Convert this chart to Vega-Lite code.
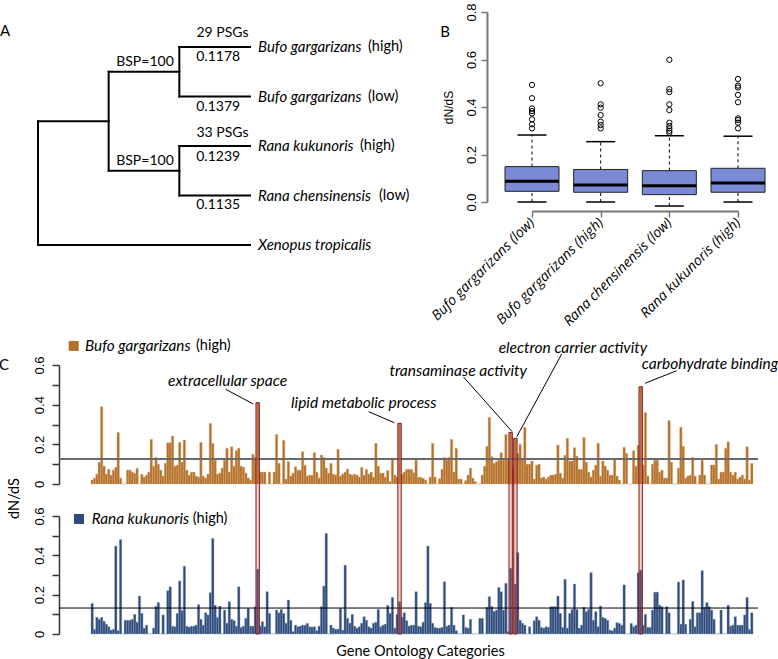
{
"$schema":"https://vega.github.io/schema/vega-lite/v6.json",
"width":778,"height":659,"autosize":"none","padding":0,"background":"white",
"config":{"view":{"stroke":null},"font":"Lato","axis":{"grid":false}},
"datasets":{
"tree":[{"x":0,"x2":3,"y":5,"y2":5},{"x":0,"x2":0,"y":2.5,"y2":5},{"x":0,"x2":1,"y":2.5,"y2":2.5},{"x":1,"x2":1,"y":1.5,"y2":3.5},{"x":1,"x2":2,"y":1.5,"y2":1.5},{"x":1,"x2":2,"y":3.5,"y2":3.5},{"x":2,"x2":2,"y":1,"y2":2},{"x":2,"x2":2,"y":3,"y2":4},{"x":2,"x2":3,"y":1,"y2":1},{"x":2,"x2":3,"y":2,"y2":2},{"x":2,"x2":3,"y":3,"y2":3},{"x":2,"x2":3,"y":4,"y2":4}],
"treeText":[{"t":"29 PSGs","x":2.61,"y":0.717},{"t":"0.1178","x":2.55,"y":1.212},{"t":"0.1379","x":2.55,"y":2.222},{"t":"33 PSGs","x":2.61,"y":2.737},{"t":"0.1239","x":2.55,"y":3.232},{"t":"0.1135","x":2.55,"y":4.202},{"t":"BSP=100","x":1.514,"y":1.303},{"t":"BSP=100","x":1.514,"y":3.303}],
"tips":[{"sp":"Bufo gargarizans","suf":"(high)","y":1},{"sp":"Bufo gargarizans","suf":"(low)","y":2},{"sp":"Rana kukunoris","suf":"(high)","y":3},{"sp":"Rana chensinensis","suf":"(low)","y":4},{"sp":"Xenopus tropicalis","suf":"","y":5}],
"letters":[{"t":"A","x":-0.467,"y":0.677},{"t":"B","x":5.759,"y":0.697},{"t":"C","x":-0.48,"y":7.424}],
"box":[{"g":"Bufo gargarizans (low)","lo":0,"q1":0.045,"med":0.087,"q3":0.149,"hi":0.282},{"g":"Bufo gargarizans (high)","lo":0,"q1":0.041,"med":0.072,"q3":0.137,"hi":0.254},{"g":"Rana chensinensis (low)","lo":-0.017,"q1":0.031,"med":0.068,"q3":0.132,"hi":0.279},{"g":"Rana kukunoris (high)","lo":0,"q1":0.041,"med":0.08,"q3":0.142,"hi":0.277}],
"outl":[{"g":"Bufo gargarizans (low)","v":0.493},{"g":"Bufo gargarizans (low)","v":0.437},{"g":"Bufo gargarizans (low)","v":0.394},{"g":"Bufo gargarizans (low)","v":0.383},{"g":"Bufo gargarizans (low)","v":0.373},{"g":"Bufo gargarizans (low)","v":0.348},{"g":"Bufo gargarizans (low)","v":0.327},{"g":"Bufo gargarizans (low)","v":0.31},
{"g":"Bufo gargarizans (high)","v":0.5},{"g":"Bufo gargarizans (high)","v":0.411},{"g":"Bufo gargarizans (high)","v":0.397},{"g":"Bufo gargarizans (high)","v":0.366},{"g":"Bufo gargarizans (high)","v":0.338},{"g":"Bufo gargarizans (high)","v":0.324},{"g":"Bufo gargarizans (high)","v":0.31},
{"g":"Rana chensinensis (low)","v":0.599},{"g":"Rana chensinensis (low)","v":0.475},{"g":"Rana chensinensis (low)","v":0.463},{"g":"Rana chensinensis (low)","v":0.411},{"g":"Rana chensinensis (low)","v":0.387},{"g":"Rana chensinensis (low)","v":0.334},{"g":"Rana chensinensis (low)","v":0.32},{"g":"Rana chensinensis (low)","v":0.31},{"g":"Rana chensinensis (low)","v":0.3},{"g":"Rana chensinensis (low)","v":0.292},
{"g":"Rana kukunoris (high)","v":0.518},{"g":"Rana kukunoris (high)","v":0.49},{"g":"Rana kukunoris (high)","v":0.482},{"g":"Rana kukunoris (high)","v":0.451},{"g":"Rana kukunoris (high)","v":0.42},{"g":"Rana kukunoris (high)","v":0.352},{"g":"Rana kukunoris (high)","v":0.345},{"g":"Rana kukunoris (high)","v":0.334},{"g":"Rana kukunoris (high)","v":0.31}],
"terms":[{"i":71,"term":"extracellular space","b":0.41,"tx":59.46,"ty":0.519,"lx":58.7,"ly":0.4775,"lx2":70.2,"ly2":0.4034},{"i":131,"term":"lipid metabolic process","b":0.306,"tx":116.25,"ty":0.408,"lx":118.3,"ly":0.3645,"lx2":128.96,"ly2":0.309},{"i":178,"term":"transaminase activity","b":0.26,"tx":155.6,"ty":0.572,"lx":157.8,"ly":0.5395,"lx2":178,"ly2":0.2647},{"i":180,"term":"electron carrier activity","b":0.23,"tx":203.4,"ty":0.684,"lx":198.7,"ly":0.6555,"lx2":180,"ly2":0.2385},{"i":233,"term":"carbohydrate binding","b":0.49,"tx":260.5,"ty":0.606,"lx":246.6,"ly":0.5713,"lx2":233.4,"ly2":0.5077}],
"go":[
{"i":1,"b":0.02,"r":0.156},{"i":2,"b":0.03,"r":0.024},{"i":3,"b":0.05,"r":0.085},{"i":4,"b":0.11,"r":0.075},{"i":5,"b":0.39,"r":0.085},{"i":6,"b":0.09,"r":0.065},{"i":7,"b":0.05,"r":0.05},{"i":8,"b":0.074,"r":0.037},{"i":9,"b":0.045,"r":0.02},{"i":10,"b":0.07,"r":0.024},
{"i":11,"b":0.084,"r":0.447},{"i":12,"b":0.26,"r":0.017},{"i":13,"b":0.03,"r":0.48},{"i":14,"b":0,"r":0},{"i":15,"b":0,"r":0.07},{"i":16,"b":0.07,"r":0.07},{"i":17,"b":0.07,"r":0.07},{"i":18,"b":0.06,"r":0.075},{"i":19,"b":0.054,"r":0.1},{"i":20,"b":0.079,"r":0.06},
{"i":21,"b":0,"r":0.193},{"i":22,"b":0.049,"r":0.105},{"i":23,"b":0.035,"r":0.03},{"i":24,"b":0.045,"r":0.045},{"i":25,"b":0.06,"r":0},{"i":26,"b":0.225,"r":0},{"i":27,"b":0.09,"r":0.03},{"i":28,"b":0.134,"r":0.14},{"i":29,"b":0.1,"r":0.16},{"i":30,"b":0.07,"r":0},
{"i":31,"b":0.04,"r":0.097},{"i":32,"b":0.104,"r":0},{"i":33,"b":0.208,"r":0.22},{"i":34,"b":0.208,"r":0.24},{"i":35,"b":0.242,"r":0.04},{"i":36,"b":0.09,"r":0.037},{"i":37,"b":0.095,"r":0.105},{"i":38,"b":0.21,"r":0.27},{"i":39,"b":0.11,"r":0.12},{"i":40,"b":0.222,"r":0.345},
{"i":41,"b":0.07,"r":0.04},{"i":42,"b":0.045,"r":0.035},{"i":43,"b":0.06,"r":0.04},{"i":44,"b":0.06,"r":0.04},{"i":45,"b":0.04,"r":0.045},{"i":46,"b":0.035,"r":0.15},{"i":47,"b":0.21,"r":0.075},{"i":48,"b":0.04,"r":0.045},{"i":49,"b":0.03,"r":0.108},{"i":50,"b":0.05,"r":0.097},
{"i":51,"b":0.306,"r":0.21},{"i":52,"b":0.205,"r":0.486},{"i":53,"b":0.12,"r":0.146},{"i":54,"b":0.05,"r":0.085},{"i":55,"b":0.055,"r":0.142},{"i":56,"b":0.08,"r":0},{"i":57,"b":0.12,"r":0.122},{"i":58,"b":0.18,"r":0.055},{"i":59,"b":0.06,"r":0.164},{"i":60,"b":0.188,"r":0.075},
{"i":61,"b":0.09,"r":0.068},{"i":62,"b":0.168,"r":0.04},{"i":63,"b":0.18,"r":0.24},{"i":64,"b":0.09,"r":0.034},{"i":65,"b":0.085,"r":0.04},{"i":66,"b":0.055,"r":0.08},{"i":67,"b":0.03,"r":0.13},{"i":68,"b":0.02,"r":0.04},{"i":69,"b":0.15,"r":0.04},{"i":70,"b":0.134,"r":0.139},
{"i":71,"b":0.41,"r":0.33},{"i":72,"b":0.06,"r":0.04},{"i":73,"b":0.06,"r":0.063},{"i":74,"b":0.06,"r":0.037},{"i":75,"b":0,"r":0.215},{"i":76,"b":0.06,"r":0.105},{"i":77,"b":0,"r":0},{"i":78,"b":0.06,"r":0},{"i":79,"b":0.25,"r":0.122},{"i":80,"b":0.105,"r":0.108},
{"i":81,"b":0,"r":0.125},{"i":82,"b":0.22,"r":0.105},{"i":83,"b":0.025,"r":0.055},{"i":84,"b":0.113,"r":0.173},{"i":85,"b":0.04,"r":0.07},{"i":86,"b":0.055,"r":0.012},{"i":87,"b":0.087,"r":0.045},{"i":88,"b":0.07,"r":0.037},{"i":89,"b":0.07,"r":0.04},{"i":90,"b":0.163,"r":0.045},
{"i":91,"b":0.095,"r":0.045},{"i":92,"b":0.04,"r":0.054},{"i":93,"b":0.045,"r":0.037},{"i":94,"b":0.045,"r":0.035},{"i":95,"b":0.158,"r":0.037},{"i":96,"b":0.06,"r":0.017},{"i":97,"b":0.03,"r":0.04},{"i":98,"b":0.146,"r":0.139},{"i":99,"b":0.134,"r":0.244},{"i":100,"b":0.08,"r":0.512},
{"i":101,"b":0.055,"r":0},{"i":102,"b":0.104,"r":0.045},{"i":103,"b":0.05,"r":0.03},{"i":104,"b":0.045,"r":0.025},{"i":105,"b":0.175,"r":0.025},{"i":106,"b":0.04,"r":0.13},{"i":107,"b":0.05,"r":0.02},{"i":108,"b":0.06,"r":0.35},{"i":109,"b":0.075,"r":0.08},{"i":110,"b":0.05,"r":0.055},
{"i":111,"b":0.045,"r":0.1},{"i":112,"b":0.05,"r":0.04},{"i":113,"b":0.045,"r":0.03},{"i":114,"b":0.035,"r":0.037},{"i":115,"b":0.084,"r":0.055},{"i":116,"b":0.045,"r":0.088},{"i":117,"b":0.074,"r":0.07},{"i":118,"b":0.05,"r":0.037},{"i":119,"b":0.06,"r":0.03},{"i":120,"b":0.035,"r":0.055},
{"i":121,"b":0.205,"r":0.06},{"i":122,"b":0.09,"r":0.125},{"i":123,"b":0.055,"r":0.037},{"i":124,"b":0.055,"r":0.045},{"i":125,"b":0.035,"r":0.05},{"i":126,"b":0.068,"r":0.146},{"i":127,"b":0.012,"r":0.105},{"i":128,"b":0.13,"r":0.186},{"i":129,"b":0.045,"r":0.03},{"i":130,"b":0.035,"r":0.1},
{"i":131,"b":0.306,"r":0.164},{"i":132,"b":0.05,"r":0.085},{"i":133,"b":0.06,"r":0.108},{"i":134,"b":0.074,"r":0.068},{"i":135,"b":0.074,"r":0.04},{"i":136,"b":0.074,"r":0.045},{"i":137,"b":0.057,"r":0.045},{"i":138,"b":0.12,"r":0.215},{"i":139,"b":0.034,"r":0.04},{"i":140,"b":0.034,"r":0.037},
{"i":141,"b":0.028,"r":0.06},{"i":142,"b":0.02,"r":0.16},{"i":143,"b":0,"r":0.447},{"i":144,"b":0.035,"r":0.156},{"i":145,"b":0.205,"r":0.055},{"i":146,"b":0.035,"r":0.034},{"i":147,"b":0,"r":0.03},{"i":148,"b":0.027,"r":0.03},{"i":149,"b":0.074,"r":0.034},{"i":150,"b":0.134,"r":0.266},
{"i":151,"b":0.12,"r":0.04},{"i":152,"b":0.134,"r":0.045},{"i":153,"b":0.225,"r":0.136},{"i":154,"b":0.06,"r":0.045},{"i":155,"b":0.18,"r":0.017},{"i":156,"b":0.025,"r":0},{"i":157,"b":0.025,"r":0},{"i":158,"b":0,"r":0.097},{"i":159,"b":0.017,"r":0.034},{"i":160,"b":0.045,"r":0.03},
{"i":161,"b":0.08,"r":0.075},{"i":162,"b":0.03,"r":0},{"i":163,"b":0.012,"r":0},{"i":164,"b":0,"r":0},{"i":165,"b":0,"r":0.08},{"i":166,"b":0.045,"r":0.08},{"i":167,"b":0.09,"r":0},{"i":168,"b":0.19,"r":0.136},{"i":169,"b":0.336,"r":0.19},{"i":170,"b":0.138,"r":0.14},
{"i":171,"b":0.104,"r":0.115},{"i":172,"b":0.113,"r":0.122},{"i":173,"b":0.12,"r":0.237},{"i":174,"b":0.158,"r":0.215},{"i":175,"b":0.12,"r":0.122},{"i":176,"b":0.25,"r":0.258},{"i":177,"b":0.12,"r":0.012},{"i":178,"b":0.26,"r":0.334},{"i":179,"b":0.085,"r":0.005},{"i":180,"b":0.23,"r":0.254},
{"i":181,"b":0.155,"r":0.414},{"i":182,"b":0.2,"r":0.07},{"i":183,"b":0.13,"r":0.055},{"i":184,"b":0.286,"r":0.045},{"i":185,"b":0.1,"r":0},{"i":186,"b":0.1,"r":0.037},{"i":187,"b":0.116,"r":0},{"i":188,"b":0.025,"r":0.068},{"i":189,"b":0.095,"r":0.088},{"i":190,"b":0.1,"r":0.07},
{"i":191,"b":0.03,"r":0.034},{"i":192,"b":0.035,"r":0.03},{"i":193,"b":0.025,"r":0.037},{"i":194,"b":0.035,"r":0.034},{"i":195,"b":0.045,"r":0.139},{"i":196,"b":0.045,"r":0.139},{"i":197,"b":0.05,"r":0.139},{"i":198,"b":0.197,"r":0.193},{"i":199,"b":0.055,"r":0.105},{"i":200,"b":0.03,"r":0.034},
{"i":201,"b":0.145,"r":0.278},{"i":202,"b":0.23,"r":0.03},{"i":203,"b":0.116,"r":0.105},{"i":204,"b":0.116,"r":0.125},{"i":205,"b":0.183,"r":0.254},{"i":206,"b":0.14,"r":0.125},{"i":207,"b":0.074,"r":0.03},{"i":208,"b":0.074,"r":0.045},{"i":209,"b":0.235,"r":0.136},{"i":210,"b":0.11,"r":0.114},
{"i":211,"b":0.06,"r":0.125},{"i":212,"b":0.035,"r":0.312},{"i":213,"b":0.07,"r":0.07},{"i":214,"b":0.095,"r":0.114},{"i":215,"b":0.205,"r":0.037},{"i":216,"b":0.04,"r":0.142},{"i":217,"b":0.116,"r":0.085},{"i":218,"b":0.09,"r":0.08},{"i":219,"b":0.07,"r":0.07},{"i":220,"b":0.045,"r":0.02},
{"i":221,"b":0.045,"r":0.017},{"i":222,"b":0.13,"r":0.03},{"i":223,"b":0.04,"r":0.058},{"i":224,"b":0.02,"r":0.054},{"i":225,"b":0,"r":0.045},{"i":226,"b":0.185,"r":0.25},{"i":227,"b":0.155,"r":0},{"i":228,"b":0,"r":0},{"i":229,"b":0,"r":0.054},{"i":230,"b":0.168,"r":0.037},
{"i":231,"b":0.09,"r":0.045},{"i":232,"b":0.195,"r":0.312},{"i":233,"b":0.49,"r":0.325},{"i":234,"b":0.096,"r":0.045},{"i":235,"b":0.36,"r":0.1},{"i":236,"b":0.04,"r":0.034},{"i":237,"b":0,"r":0.034},{"i":238,"b":0.1,"r":0.122},{"i":239,"b":0.12,"r":0.213},{"i":240,"b":0.12,"r":0.213},
{"i":241,"b":0.06,"r":0.147},{"i":242,"b":0.07,"r":0.139},{"i":243,"b":0.03,"r":0},{"i":244,"b":0.03,"r":0.139},{"i":245,"b":0.32,"r":0.108},{"i":246,"b":0.11,"r":0},{"i":247,"b":0,"r":0},{"i":248,"b":0,"r":0},{"i":249,"b":0.08,"r":0.264},{"i":250,"b":0.286,"r":0.05},
{"i":251,"b":0.19,"r":0.275},{"i":252,"b":0.03,"r":0.05},{"i":253,"b":0.04,"r":0},{"i":254,"b":0.045,"r":0.075},{"i":255,"b":0.134,"r":0.166},{"i":256,"b":0.04,"r":0.037},{"i":257,"b":0,"r":0.108},{"i":258,"b":0.045,"r":0.108},{"i":259,"b":0.12,"r":0.322},{"i":260,"b":0.045,"r":0.136},
{"i":261,"b":0,"r":0.16},{"i":262,"b":0,"r":0.139},{"i":263,"b":0.096,"r":0.122},{"i":264,"b":0.096,"r":0.075},{"i":265,"b":0.2,"r":0},{"i":266,"b":0.025,"r":0},{"i":267,"b":0.06,"r":0.122},{"i":268,"b":0.06,"r":0},{"i":269,"b":0.18,"r":0},{"i":270,"b":0.213,"r":0.146},
{"i":271,"b":0.06,"r":0.04},{"i":272,"b":0.045,"r":0.045},{"i":273,"b":0.06,"r":0.088},{"i":274,"b":0.025,"r":0.045},{"i":275,"b":0.035,"r":0.045},{"i":276,"b":0.045,"r":0.045},{"i":277,"b":0.025,"r":0.097},{"i":278,"b":0.188,"r":0.186},{"i":279,"b":0.02,"r":0.024},{"i":280,"b":0.104,"r":0.108}
]
},
"layer":[
 {"data":{"name":"tree"},"mark":{"type":"rule","color":"black","strokeWidth":2,"strokeCap":"square"},
  "encoding":{"x":{"field":"x","type":"quantitative","scale":{"domain":[0,3],"range":[38,250],"zero":false,"nice":false},"axis":null},"x2":{"field":"x2"},
   "y":{"field":"y","type":"quantitative","scale":{"domain":[1,5],"range":[47,245],"zero":false,"nice":false},"axis":null},"y2":{"field":"y2"}}},
 {"data":{"name":"treeText"},"mark":{"type":"text","fontSize":14,"align":"center","baseline":"middle","color":"black"},
  "encoding":{"x":{"field":"x","type":"quantitative","scale":{"domain":[0,3],"range":[38,250],"zero":false,"nice":false},"axis":null},
   "y":{"field":"y","type":"quantitative","scale":{"domain":[1,5],"range":[47,245],"zero":false,"nice":false},"axis":null},"text":{"field":"t"}}},
 {"data":{"name":"tips"},"mark":{"type":"text","fontSize":15,"fontStyle":"italic","align":"left","baseline":"middle","dx":8,"color":"black"},
  "encoding":{"x":{"datum":3,"type":"quantitative","scale":{"domain":[0,3],"range":[38,250],"zero":false,"nice":false},"axis":null},
   "y":{"field":"y","type":"quantitative","scale":{"domain":[1,5],"range":[47,245],"zero":false,"nice":false},"axis":null},"text":{"field":"sp"}}},
 {"data":{"name":"tips"},"transform":[{"filter":"datum.sp == 'Bufo gargarizans'"}],"mark":{"type":"text","fontSize":14.5,"align":"left","baseline":"middle","dx":118,"color":"black"},
  "encoding":{"x":{"datum":3,"type":"quantitative","scale":{"domain":[0,3],"range":[38,250],"zero":false,"nice":false},"axis":null},
   "y":{"field":"y","type":"quantitative","scale":{"domain":[1,5],"range":[47,245],"zero":false,"nice":false},"axis":null},"text":{"field":"suf"}}},
 {"data":{"name":"tips"},"transform":[{"filter":"datum.sp == 'Rana kukunoris'"}],"mark":{"type":"text","fontSize":14.5,"align":"left","baseline":"middle","dx":110,"color":"black"},
  "encoding":{"x":{"datum":3,"type":"quantitative","scale":{"domain":[0,3],"range":[38,250],"zero":false,"nice":false},"axis":null},
   "y":{"field":"y","type":"quantitative","scale":{"domain":[1,5],"range":[47,245],"zero":false,"nice":false},"axis":null},"text":{"field":"suf"}}},
 {"data":{"name":"tips"},"transform":[{"filter":"datum.sp == 'Rana chensinensis'"}],"mark":{"type":"text","fontSize":14.5,"align":"left","baseline":"middle","dx":129,"color":"black"},
  "encoding":{"x":{"datum":3,"type":"quantitative","scale":{"domain":[0,3],"range":[38,250],"zero":false,"nice":false},"axis":null},
   "y":{"field":"y","type":"quantitative","scale":{"domain":[1,5],"range":[47,245],"zero":false,"nice":false},"axis":null},"text":{"field":"suf"}}},
 {"data":{"name":"letters"},"mark":{"type":"text","fontSize":15,"align":"center","baseline":"middle","color":"black"},
  "encoding":{"x":{"field":"x","type":"quantitative","scale":{"domain":[0,3],"range":[38,250],"zero":false,"nice":false},"axis":null},
   "y":{"field":"y","type":"quantitative","scale":{"domain":[1,5],"range":[47,245],"zero":false,"nice":false},"axis":null},"text":{"field":"t"}}},

 {"data":{"name":"box"},"mark":{"type":"rule","strokeDash":[3,3],"color":"black","strokeWidth":1},
  "encoding":{"x":{"field":"g","type":"nominal","scale":{"type":"point","domain":["Bufo gargarizans (low)","Bufo gargarizans (high)","Rana chensinensis (low)","Rana kukunoris (high)"],"range":[532,738],"padding":0},
     "axis":{"orient":"bottom","offset":-448,"title":null,"domainColor":"#777","domainWidth":2,"tickColor":"#777","tickWidth":1.5,"tickSize":6,"labelAngle":-45,"labelAlign":"right","labelBaseline":"middle","labelFont":"Open Sans","labelFontStyle":"italic","labelFontSize":14,"labelColor":"black","labelPadding":3,"labelOverlap":false,"labelBound":false,"labelLimit":300}},
   "y":{"field":"q3","type":"quantitative","scale":{"domain":[0,0.8],"range":[202,12],"zero":false,"nice":false},
     "axis":{"orient":"left","offset":-487,"values":[0,0.2,0.4,0.6,0.8],"format":".1f","title":"dN/dS","titleFont":"Liberation Sans","titleFontSize":12,"titleFontWeight":"normal","titleColor":"black","titleX":-39,"titleY":107,"titleAngle":270,"titleAlign":"center","titleBaseline":"middle","domainColor":"#777","domainWidth":2,"tickColor":"#777","tickWidth":1.5,"tickSize":6,"labelAngle":-90,"labelAlign":"center","labelBaseline":"bottom","labelFont":"Liberation Sans","labelFontSize":13,"labelColor":"black","labelPadding":3,"labelOverlap":false,"labelBound":false}},
   "y2":{"field":"hi"}}},
 {"data":{"name":"box"},"mark":{"type":"rule","strokeDash":[3,3],"color":"black","strokeWidth":1},
  "encoding":{"x":{"field":"g","type":"nominal","scale":{"type":"point","domain":["Bufo gargarizans (low)","Bufo gargarizans (high)","Rana chensinensis (low)","Rana kukunoris (high)"],"range":[532,738],"padding":0},"axis":null},
   "y":{"field":"lo","type":"quantitative","scale":{"domain":[0,0.8],"range":[202,12],"zero":false,"nice":false},"axis":null},"y2":{"field":"q1"}}},
 {"data":{"name":"box"},"mark":{"type":"tick","orient":"horizontal","size":29,"thickness":1.5,"color":"black","opacity":1},
  "encoding":{"x":{"field":"g","type":"nominal","scale":{"type":"point","domain":["Bufo gargarizans (low)","Bufo gargarizans (high)","Rana chensinensis (low)","Rana kukunoris (high)"],"range":[532,738],"padding":0},"axis":null},
   "y":{"field":"hi","type":"quantitative","scale":{"domain":[0,0.8],"range":[202,12],"zero":false,"nice":false},"axis":null}}},
 {"data":{"name":"box"},"mark":{"type":"tick","orient":"horizontal","size":29,"thickness":1.5,"color":"black","opacity":1},
  "encoding":{"x":{"field":"g","type":"nominal","scale":{"type":"point","domain":["Bufo gargarizans (low)","Bufo gargarizans (high)","Rana chensinensis (low)","Rana kukunoris (high)"],"range":[532,738],"padding":0},"axis":null},
   "y":{"field":"lo","type":"quantitative","scale":{"domain":[0,0.8],"range":[202,12],"zero":false,"nice":false},"axis":null}}},
 {"data":{"name":"box"},"mark":{"type":"bar","width":54,"fill":"#7b8ad4","stroke":"#222","strokeWidth":1,"opacity":1},
  "encoding":{"x":{"field":"g","type":"nominal","scale":{"type":"point","domain":["Bufo gargarizans (low)","Bufo gargarizans (high)","Rana chensinensis (low)","Rana kukunoris (high)"],"range":[532,738],"padding":0},"axis":null},
   "y":{"field":"q1","type":"quantitative","scale":{"domain":[0,0.8],"range":[202,12],"zero":false,"nice":false},"axis":null},"y2":{"field":"q3"}}},
 {"data":{"name":"box"},"mark":{"type":"tick","orient":"horizontal","size":54,"thickness":3,"color":"black","opacity":1},
  "encoding":{"x":{"field":"g","type":"nominal","scale":{"type":"point","domain":["Bufo gargarizans (low)","Bufo gargarizans (high)","Rana chensinensis (low)","Rana kukunoris (high)"],"range":[532,738],"padding":0},"axis":null},
   "y":{"field":"med","type":"quantitative","scale":{"domain":[0,0.8],"range":[202,12],"zero":false,"nice":false},"axis":null}}},
 {"data":{"name":"outl"},"mark":{"type":"point","shape":"circle","filled":false,"size":28,"color":"black","strokeWidth":1,"opacity":1},
  "encoding":{"x":{"field":"g","type":"nominal","scale":{"type":"point","domain":["Bufo gargarizans (low)","Bufo gargarizans (high)","Rana chensinensis (low)","Rana kukunoris (high)"],"range":[532,738],"padding":0},"axis":null},
   "y":{"field":"v","type":"quantitative","scale":{"domain":[0,0.8],"range":[202,12],"zero":false,"nice":false},"axis":null}}},

 {"data":{"name":"go"},"mark":{"type":"bar","width":2.4,"fill":"#2e4a7a","stroke":"#8fa2c2","strokeWidth":0.4},
  "encoding":{"x":{"field":"i","type":"quantitative","scale":{"domain":[0.5,280.5],"range":[86,758],"zero":false,"nice":false},
     "axis":{"orient":"bottom","offset":0,"domain":false,"ticks":false,"labels":false,"title":"Gene Ontology Categories","titleX":420,"titleY":-8,"titleAlign":"center","titleBaseline":"middle","titleFont":"Lato","titleFontSize":14.5,"titleFontWeight":"normal","titleColor":"black"}},
   "y":{"field":"r","type":"quantitative","scale":{"domain":[0,0.6],"range":[634,516],"zero":false,"nice":false},
     "axis":{"orient":"left","offset":-59,"values":[0,0.1,0.2,0.3,0.4,0.5,0.6],"labelExpr":"datum.value == 0 ? '0' : (round(datum.value * 10) % 2 == 0 ? format(datum.value, '.1f') : '')","title":null,"domainColor":"#333","domainWidth":1.5,"tickColor":"#333","tickWidth":1.5,"tickSize":7,"labelAngle":-90,"labelAlign":"center","labelBaseline":"bottom","labelFont":"Liberation Sans","labelFontSize":13,"labelColor":"black","labelPadding":6,"labelOverlap":false,"labelBound":false}},
   "y2":{"datum":0}}},
 {"data":{"values":[{"m":0.132}]},"mark":{"type":"rule","color":"black","strokeWidth":1},
  "encoding":{"x":{"datum":-10.75,"type":"quantitative","scale":{"domain":[0.5,280.5],"range":[86,758],"zero":false,"nice":false},"axis":null},"x2":{"datum":280.5},
   "y":{"field":"m","type":"quantitative","scale":{"domain":[0,0.6],"range":[634,516],"zero":false,"nice":false},"axis":null}}},
 {"data":{"values":[{"s":"Rana kukunoris","suf":"(high)"}]},"mark":{"type":"point","shape":"square","filled":true,"size":100,"color":"#2e4a7a","opacity":1},
  "encoding":{"x":{"datum":-2.42,"type":"quantitative","scale":{"domain":[0.5,280.5],"range":[86,758],"zero":false,"nice":false},"axis":null},
   "y":{"datum":0.585,"type":"quantitative","scale":{"domain":[0,0.6],"range":[634,516],"zero":false,"nice":false},"axis":null}}},
 {"data":{"values":[{"s":"Rana kukunoris","suf":"(high)"}]},"mark":{"type":"text","align":"left","baseline":"middle","fontStyle":"italic","fontSize":15.3,"color":"black"},
  "encoding":{"x":{"datum":2.875,"type":"quantitative","scale":{"domain":[0.5,280.5],"range":[86,758],"zero":false,"nice":false},"axis":null},
   "y":{"datum":0.585,"type":"quantitative","scale":{"domain":[0,0.6],"range":[634,516],"zero":false,"nice":false},"axis":null},"text":{"field":"s"}}},
 {"data":{"values":[{"s":"Rana kukunoris","suf":"(high)"}]},"mark":{"type":"text","align":"left","baseline":"middle","fontSize":14.5,"dx":101,"color":"black"},
  "encoding":{"x":{"datum":2.875,"type":"quantitative","scale":{"domain":[0.5,280.5],"range":[86,758],"zero":false,"nice":false},"axis":null},
   "y":{"datum":0.585,"type":"quantitative","scale":{"domain":[0,0.6],"range":[634,516],"zero":false,"nice":false},"axis":null},"text":{"field":"suf"}}},

 {"data":{"name":"go"},"mark":{"type":"bar","width":2.4,"fill":"#b3702a","stroke":"#dcae7e","strokeWidth":0.4},
  "encoding":{"x":{"field":"i","type":"quantitative","scale":{"domain":[0.5,280.5],"range":[86,758],"zero":false,"nice":false},"axis":null},
   "y":{"field":"b","type":"quantitative","scale":{"domain":[0,0.6],"range":[484,365],"zero":false,"nice":false},
     "axis":{"orient":"left","offset":-59,"values":[0,0.1,0.2,0.3,0.4,0.5,0.6],"labelExpr":"datum.value == 0 ? '0' : (round(datum.value * 10) % 2 == 0 ? format(datum.value, '.1f') : '')","title":"dN/dS","titleX":-45,"titleY":498,"titleAngle":270,"titleAlign":"center","titleBaseline":"middle","titleFont":"Lato","titleFontSize":14.5,"titleFontWeight":"normal","titleColor":"black","domainColor":"#333","domainWidth":1.5,"tickColor":"#333","tickWidth":1.5,"tickSize":7,"labelAngle":-90,"labelAlign":"center","labelBaseline":"bottom","labelFont":"Liberation Sans","labelFontSize":13,"labelColor":"black","labelPadding":6,"labelOverlap":false,"labelBound":false}},
   "y2":{"datum":0}}},
 {"data":{"values":[{"m":0.126}]},"mark":{"type":"rule","color":"#6a6a6a","strokeWidth":2},
  "encoding":{"x":{"datum":-10.75,"type":"quantitative","scale":{"domain":[0.5,280.5],"range":[86,758],"zero":false,"nice":false},"axis":null},"x2":{"datum":280.5},
   "y":{"field":"m","type":"quantitative","scale":{"domain":[0,0.6],"range":[484,365],"zero":false,"nice":false},"axis":null}}},
 {"data":{"name":"terms"},"mark":{"type":"bar","width":3.4,"fill":"#c05a5a","fillOpacity":0.3,"stroke":"#8b1a1a","strokeWidth":1},
  "encoding":{"x":{"field":"i","type":"quantitative","scale":{"domain":[0.5,280.5],"range":[86,758],"zero":false,"nice":false},"axis":null},
   "y":{"field":"b","type":"quantitative","scale":{"domain":[0,0.6],"range":[484,365],"zero":false,"nice":false},"axis":null},"y2":{"datum":-0.7563}}},
 {"data":{"name":"terms"},"mark":{"type":"rule","color":"black","strokeWidth":1},
  "encoding":{"x":{"field":"lx","type":"quantitative","scale":{"domain":[0.5,280.5],"range":[86,758],"zero":false,"nice":false},"axis":null},"x2":{"field":"lx2"},
   "y":{"field":"ly","type":"quantitative","scale":{"domain":[0,0.6],"range":[484,365],"zero":false,"nice":false},"axis":null},"y2":{"field":"ly2"}}},
 {"data":{"name":"terms"},"mark":{"type":"text","fontStyle":"italic","fontSize":15.5,"align":"center","baseline":"middle","color":"black"},
  "encoding":{"x":{"field":"tx","type":"quantitative","scale":{"domain":[0.5,280.5],"range":[86,758],"zero":false,"nice":false},"axis":null},
   "y":{"field":"ty","type":"quantitative","scale":{"domain":[0,0.6],"range":[484,365],"zero":false,"nice":false},"axis":null},"text":{"field":"term"}}},
 {"data":{"values":[{"s":"Bufo gargarizans","suf":"(high)"}]},"mark":{"type":"point","shape":"square","filled":true,"size":100,"color":"#b3702a","opacity":1},
  "encoding":{"x":{"datum":-4.625,"type":"quantitative","scale":{"domain":[0.5,280.5],"range":[86,758],"zero":false,"nice":false},"axis":null},
   "y":{"datum":0.696,"type":"quantitative","scale":{"domain":[0,0.6],"range":[484,365],"zero":false,"nice":false},"axis":null}}},
 {"data":{"values":[{"s":"Bufo gargarizans","suf":"(high)"}]},"mark":{"type":"text","align":"left","baseline":"middle","fontStyle":"italic","fontSize":15.3,"color":"black"},
  "encoding":{"x":{"datum":0.083,"type":"quantitative","scale":{"domain":[0.5,280.5],"range":[86,758],"zero":false,"nice":false},"axis":null},
   "y":{"datum":0.696,"type":"quantitative","scale":{"domain":[0,0.6],"range":[484,365],"zero":false,"nice":false},"axis":null},"text":{"field":"s"}}},
 {"data":{"values":[{"s":"Bufo gargarizans","suf":"(high)"}]},"mark":{"type":"text","align":"left","baseline":"middle","fontSize":14.5,"dx":111,"color":"black"},
  "encoding":{"x":{"datum":0.083,"type":"quantitative","scale":{"domain":[0.5,280.5],"range":[86,758],"zero":false,"nice":false},"axis":null},
   "y":{"datum":0.696,"type":"quantitative","scale":{"domain":[0,0.6],"range":[484,365],"zero":false,"nice":false},"axis":null},"text":{"field":"suf"}}}
],
"resolve":{"scale":{"x":"independent","y":"independent"}}
}
